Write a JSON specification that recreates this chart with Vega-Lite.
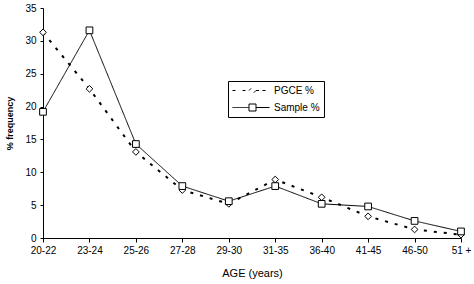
{
  "$schema": "https://vega.github.io/schema/vega-lite/v6.json",
  "width": 418,
  "height": 230,
  "autosize": {"type": "none"},
  "padding": {"left": 43, "top": 8, "right": 13, "bottom": 46},
  "background": "white",
  "config": {
    "font": "Liberation Sans",
    "view": {"stroke": null},
    "axis": {
      "grid": false,
      "domainColor": "black",
      "tickColor": "black",
      "labelColor": "black",
      "titleColor": "black",
      "labelFontSize": 10,
      "tickSize": 4,
      "labelFont": "Liberation Sans",
      "titleFont": "Liberation Sans"
    }
  },
  "data": {
    "values": [
      {"age": "20-22", "series": "PGCE %", "value": 31.3},
      {"age": "23-24", "series": "PGCE %", "value": 22.7},
      {"age": "25-26", "series": "PGCE %", "value": 13.1},
      {"age": "27-28", "series": "PGCE %", "value": 7.3},
      {"age": "29-30", "series": "PGCE %", "value": 5.2},
      {"age": "31-35", "series": "PGCE %", "value": 8.9},
      {"age": "36-40", "series": "PGCE %", "value": 6.2},
      {"age": "41-45", "series": "PGCE %", "value": 3.3},
      {"age": "46-50", "series": "PGCE %", "value": 1.3},
      {"age": "51 +", "series": "PGCE %", "value": 0.5},
      {"age": "20-22", "series": "Sample %", "value": 19.2},
      {"age": "23-24", "series": "Sample %", "value": 31.6},
      {"age": "25-26", "series": "Sample %", "value": 14.3},
      {"age": "27-28", "series": "Sample %", "value": 7.9},
      {"age": "29-30", "series": "Sample %", "value": 5.6},
      {"age": "31-35", "series": "Sample %", "value": 7.9},
      {"age": "36-40", "series": "Sample %", "value": 5.2},
      {"age": "41-45", "series": "Sample %", "value": 4.8},
      {"age": "46-50", "series": "Sample %", "value": 2.6},
      {"age": "51 +", "series": "Sample %", "value": 1.0}
    ]
  },
  "encoding": {
    "x": {
      "field": "age",
      "type": "ordinal",
      "sort": ["20-22", "23-24", "25-26", "27-28", "29-30", "31-35", "36-40", "41-45", "46-50", "51 +"],
      "scale": {"type": "point", "padding": 0},
      "axis": {"labelAngle": 0, "title": "AGE (years)", "titleFontSize": 11, "titleFontWeight": "normal", "titlePadding": 12, "labelPadding": 3}
    },
    "y": {
      "field": "value",
      "type": "quantitative",
      "scale": {"domain": [0, 35]},
      "axis": {"values": [0, 5, 10, 15, 20, 25, 30, 35], "title": "% frequency", "titleFontSize": 9, "titleFontWeight": "bold", "titlePadding": 10, "labelPadding": 4, "tickSize": 3}
    }
  },
  "layer": [
    {
      "mark": {"type": "line", "color": "black"},
      "encoding": {
        "detail": {"field": "series"},
        "strokeWidth": {"condition": {"test": "datum.series === 'PGCE %'", "value": 2}, "value": 1},
        "strokeDash": {
          "field": "series",
          "type": "nominal",
          "scale": {"domain": ["PGCE %", "Sample %"], "range": [[3, 7], [1, 0]]},
          "legend": {
            "title": null,
            "orient": "none",
            "legendX": 185,
            "legendY": 73,
            "strokeColor": "black",
            "fillColor": "white",
            "padding": 4,
            "labelFontSize": 10,
            "labelColor": "black",
            "symbolSize": 100,
            "symbolStrokeColor": "black",
            "symbolStrokeWidth": 1,
            "rowPadding": 6,
            "labelOffset": 31,
            "encode": {
              "symbols": {
                "update": {
                  "shape": {"signal": "datum.value === 'PGCE %' ? 'M-1,0H0M1,0H1.8M2.3,0L3,-0.7L3.7,0L3,0.7ZM3.7,0H4.4M5,0H6' : 'M-1,0H2.3M2.3,-0.7H3.7V0.7H2.3ZM3.7,0H6.4'"},
                  "strokeDash": {"value": [1, 0]},
                  "stroke": {"value": "black"},
                  "fill": {"value": "white"},
                  "strokeWidth": {"value": 1}
                }
              }
            }
          }
        }
      }
    },
    {
      "mark": {"type": "point", "filled": true, "fill": "white", "stroke": "black", "strokeWidth": 1, "size": 45, "opacity": 1},
      "encoding": {
        "shape": {
          "condition": {"test": "datum.series === 'PGCE %'", "value": "diamond"},
          "value": "square"
        }
      }
    }
  ]
}
